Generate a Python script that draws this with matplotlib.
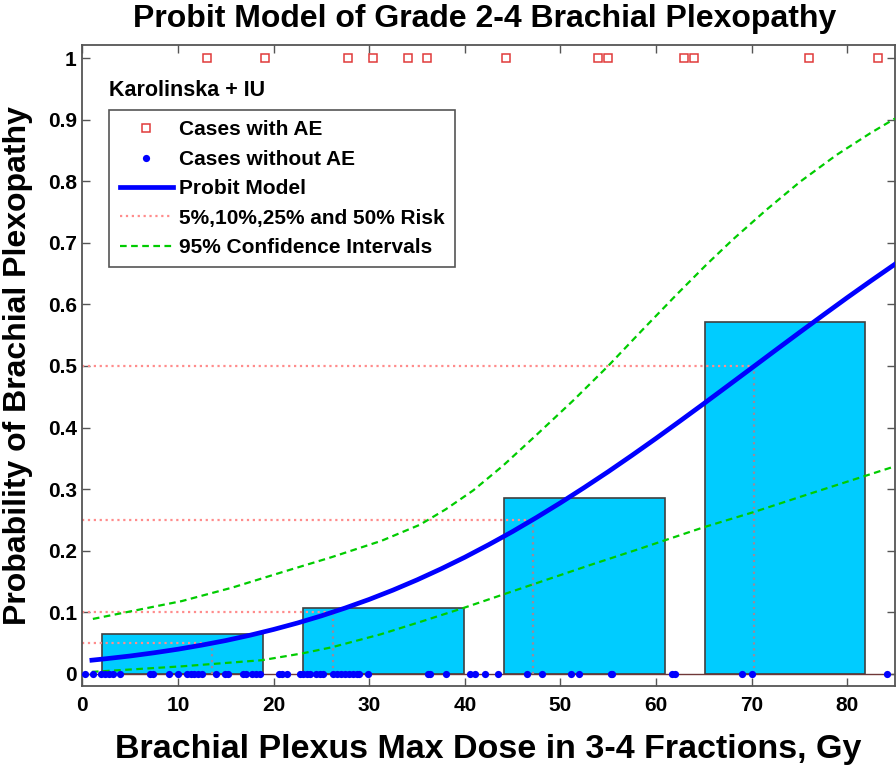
import matplotlib
matplotlib.use('Agg')
import matplotlib.pyplot as plt
from matplotlib.lines import Line2D

plt.rcParams['font.family'] = ['Liberation Sans', 'DejaVu Sans']
plt.rcParams['font.weight'] = 'bold'

# doses of cases with / without adverse event (Gy)
ae_dose = [13.0, 19.1, 27.8, 30.4, 34.1, 36.0, 44.3, 53.9, 55.0, 62.95, 64.0, 76.0, 83.2]
no_ae_dose = [0.28, 1.15, 1.92, 2.37, 2.82, 3.24, 3.94, 7.08, 7.36, 9.10, 10.04, 10.98,
              11.37, 11.71, 12.13, 12.55, 13.98, 14.92, 15.27, 16.84, 17.09, 17.78, 18.13,
              18.58, 20.60, 20.88, 21.44, 22.77, 23.05, 23.47, 23.81, 24.41, 24.86, 25.20,
              26.25, 26.67, 27.02, 27.47, 27.92, 28.34, 28.76, 28.97, 29.91, 36.18, 36.36,
              38.03, 40.54, 41.06, 42.11, 43.50, 46.47, 48.04, 51.07, 51.97, 55.26, 55.36,
              61.64, 61.98, 68.96, 70.0, 84.12]

# observed complication rate per dose bin
bin_centers = [10.5, 31.5, 52.5, 73.5]
bin_rate = [0.0645, 0.107, 0.2857, 0.5714]

# probit model curve
model_dose = [1, 2.5, 5, 7.5, 10, 12.5, 15, 17.5, 20, 22.5, 25, 27.5, 30, 32.5, 35, 37.5,
              40, 42.5, 45, 47.5, 50, 52.5, 55, 57.5, 60, 62.5, 65, 67.5, 70, 72.5, 75,
              77.5, 80, 82.5, 85]
model_prob = [0.022, 0.0244, 0.0288, 0.034, 0.0398, 0.0465, 0.0539, 0.0624, 0.0719,
              0.0824, 0.094, 0.1068, 0.1207, 0.1359, 0.1524, 0.1702, 0.1892, 0.2096,
              0.231, 0.2538, 0.2776, 0.3025, 0.3282, 0.3549, 0.3823, 0.4104, 0.4388,
              0.4676, 0.4965, 0.5255, 0.5543, 0.5828, 0.611, 0.6385, 0.6654]

# 95% confidence band
ci_up_dose = [1.1, 10.4, 15.7, 20.9, 26.0, 31.3, 35.3, 38.0, 40.9, 44.0, 47.5, 51.35,
              55.0, 58.67, 62.16, 65.3, 68.08, 71.57, 75.05, 78.9, 82.4, 85.0]
ci_up_prob = [0.089, 0.118, 0.14, 0.165, 0.189, 0.216, 0.242, 0.267, 0.298, 0.338, 0.388,
              0.444, 0.500, 0.560, 0.616, 0.665, 0.706, 0.754, 0.799, 0.843, 0.878, 0.902]
ci_lo_dose = [1.0, 10.4, 18.8, 23.0, 26.1, 31.2, 35.5, 39.9, 47.1, 53.0, 58.3, 60.4,
              65.0, 70.3, 76.0, 82.0, 85.0]
ci_lo_prob = [0.003, 0.012, 0.022, 0.033, 0.043, 0.064, 0.085, 0.107, 0.145, 0.176,
              0.203, 0.214, 0.238, 0.263, 0.292, 0.322, 0.337]

# 5%, 10%, 25%, 50% risk levels
risk_levels = [0.05, 0.10, 0.25, 0.50]
risk_doses = [13.6, 26.2, 47.1, 70.3]

red = '#e03a3a'
green = '#00cc00'
pink = '#ff8c8c'

fig = plt.figure(figsize=(8.96, 7.66), dpi=100)
ax = fig.add_axes([0.0919, 0.1044, 0.907, 0.8365])

ax.bar(bin_centers, bin_rate, width=16.8, color='#00ccff', edgecolor='#404040',
       linewidth=1.2, zorder=1)
ax.axhline(0, color='#703838', lw=1, zorder=1.5)

for lv, d in zip(risk_levels, risk_doses):
    ax.plot([0, d], [lv, lv], ':', color=pink, lw=1.6, zorder=2)
    ax.plot([d, d], [0, lv], ':', color='#9a8a9a', lw=1.6, zorder=2)

ax.plot(ci_up_dose, ci_up_prob, '--', color=green, lw=1.6, dashes=(3, 2), zorder=3)
ax.plot(ci_lo_dose, ci_lo_prob, '--', color=green, lw=1.6, dashes=(3, 2), zorder=3)
ax.plot(model_dose, model_prob, '-', color='#0000ff', lw=3.4, zorder=3.5)

ax.plot(ae_dose, [1] * len(ae_dose), 's', mfc='none', mec=red, ms=6, mew=1.1,
        zorder=4, clip_on=False)
ax.plot(no_ae_dose, [0] * len(no_ae_dose), 'o', color='#0000ff', ms=5.2, mew=0,
        zorder=4, clip_on=False)

ax.set_xlim(0, 85)
ax.set_ylim(-0.02, 1.021)
ax.set_xticks(range(0, 81, 10))
ax.set_yticks([i / 10 for i in range(11)])
ax.set_yticklabels(['0', '0.1', '0.2', '0.3', '0.4', '0.5', '0.6', '0.7', '0.8', '0.9', '1'])
ax.tick_params(direction='in', length=6, width=1, color='#555555', labelsize=15,
               top=True, right=True)
ax.tick_params(axis='x', pad=7)
ax.tick_params(axis='y', pad=4)
for s in ax.spines.values():
    s.set_color('#555555')
    s.set_linewidth(1.3)

ax.text(0.033, 0.93, 'Karolinska + IU', transform=ax.transAxes, fontsize=15.5,
        va='center', ha='left')

handles = [
    Line2D([], [], ls='none', marker='s', mfc='none', mec=red, ms=6, mew=1.1),
    Line2D([], [], ls='none', marker='o', color='#0000ff', ms=5.2, mew=0),
    Line2D([], [], color='#0000ff', lw=3.4),
    Line2D([], [], ls=':', color=pink, lw=1.6),
    Line2D([], [], ls='--', color=green, lw=1.6, dashes=(3, 2)),
]
labels = ['Cases with AE', 'Cases without AE', 'Probit Model',
          '5%,10%,25% and 50% Risk', '95% Confidence Intervals']
leg = ax.legend(handles, labels, loc='upper left', bbox_to_anchor=(0.033, 0.899),
                fontsize=15, handlelength=2.55, handletextpad=0.3, labelspacing=0.5,
                borderpad=0.5, borderaxespad=0, fancybox=False, framealpha=1)
leg.get_frame().set_edgecolor('#555555')
leg.get_frame().set_linewidth(1.2)

fig.text(0.541, 1 - 19 / 766, 'Probit Model of Grade 2-4 Brachial Plexopathy',
         fontsize=23, ha='center', va='center')
fig.text(0.545, 1 - 758 / 766, 'Brachial Plexus Max Dose in 3-4 Fractions, Gy',
         fontsize=24.5, ha='center', va='baseline')
fig.text(3 / 896, 1 - 366 / 766, 'Probability of Brachial Plexopathy',
         fontsize=23, rotation=90, ha='left', va='center')

fig.savefig('out.png', dpi=100)
